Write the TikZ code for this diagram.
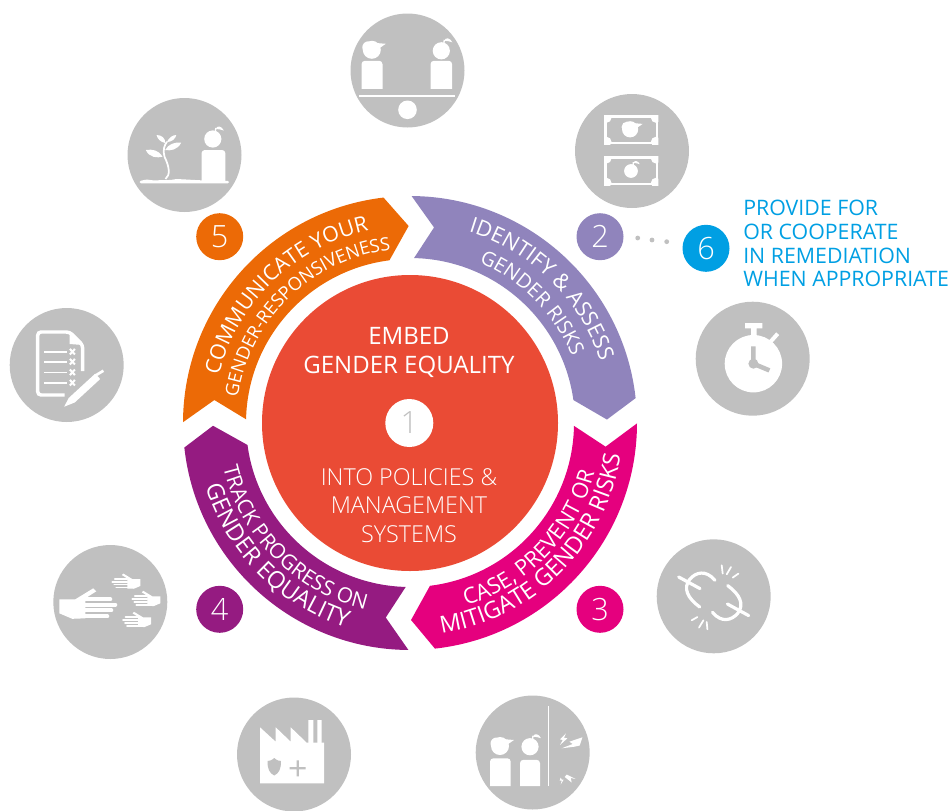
\documentclass[tikz,border=0pt]{standalone}
\usepackage{fontspec}
\setmainfont{Open Sans}
\newfontfamily\thinfont{Open Sans Light}
\usetikzlibrary{decorations.text}

\definecolor{icongrey}{HTML}{C0C0C0}
\definecolor{coral}{HTML}{EA4B35}
\definecolor{lavender}{HTML}{9084BC}
\definecolor{hotpink}{HTML}{E5007E}
\definecolor{plum}{HTML}{951B81}
\definecolor{tangerine}{HTML}{EC6A06}
\definecolor{skyblue}{HTML}{009FE3}

\newcommand{\ringlabel}[5]{%
  \path[decorate,decoration={text along path,text align=center,
    text={|\fontsize{#4}{#4}\selectfont\color{white}|#5}}]
    (#1:#3) arc[start angle=#1,end angle=#2,radius=#3];}

\tikzset{
  icon/.style={circle,fill=icongrey,minimum size=85.5pt,inner sep=0pt},
  badge/.style={circle,minimum size=35.25pt,inner sep=0pt,text=white,
    font=\thinfont\fontsize{23}{23}\selectfont},
  dotmark/.style={circle,fill=icongrey,minimum size=3.6pt,inner sep=0pt},
  stroke/.style={draw=white,line width=#1,line cap=round},
  stroke/.default=2.4pt,
  fingerwidth/.initial=3pt,
  manhead/.pic={
    \fill[white] (0,0) circle (9) (-3.5,-2.5) circle (6);
    \fill[white] (2,-7) -- (14,-6) -- (7.5,-1.5) -- cycle;
  },
  womanhead/.pic={
    \fill[white] (0,0) circle (8.6);
    \draw[white,line width=1pt] (2.5,-7) -- (3,-11);
    \fill[white] (3,-10) .. controls (4,-14) and (9,-13) .. (11,-8.5)
      .. controls (8,-10) and (6,-9.5) .. (3,-10) -- cycle;
  },
  hand/.pic={
    \fill[white] (-24,-6) -- (-8,-6) -- (10,-17) -- (13,-14) -- (2,-7)
      -- (2,13) -- (-11,13.5) -- (-24,8) -- cycle;
    \draw[stroke=\pgfkeysvalueof{/tikz/fingerwidth}] (2,-6) -- (27,-6) (2,-.6) -- (32,-.6)
      (2,5) -- (28,5) (-3,11) -- (24,11);
  },
}

\begin{document}
\begin{tikzpicture}[x=.75pt,y=-.75pt]
  \useasboundingbox (0,0) rectangle (952,810);

  \node[icon] (balance) at (407.5,70.5) {};
  \node[icon] (money) at (632,151) {};
  \node[icon] (watch) at (752.7,358.7) {};
  \node[icon] (chain) at (713.7,596.3) {};
  \node[icon] (wall) at (532.7,752.5) {};
  \node[icon] (factory) at (294,754.5) {};
  \node[icon] (hands) at (110.3,602) {};
  \node[icon] (report) at (66.7,365) {};
  \node[icon] (plant) at (184.5,155) {};

  % ring
  \begin{scope}[shift={(410,423)},y=.75pt]
    \fill[lavender] (89.6:227) arc[start angle=89.6,end angle=6.3,radius=227] -- (1:197)
      -- (8:165) arc[start angle=8,end angle=88.6,radius=165] -- (83:197) -- cycle;
    \fill[hotpink] (-0.1:227) arc[start angle=-0.1,end angle=-83.7,radius=227] -- (-89.7:197)
      -- (-83:164) arc[start angle=-83,end angle=-1,radius=164] -- (-6.9:197) -- cycle;
    \fill[plum] (186.2:227) arc[start angle=186.2,end angle=269.6,radius=227] -- (262.9:196)
      -- (268.5:164) arc[start angle=268.5,end angle=187.7,radius=164] -- (180.8:197) -- cycle;
    \fill[tangerine] (179.8:227) arc[start angle=179.8,end angle=96.7,radius=227] -- (90.4:197)
      -- (97.2:164) arc[start angle=97.2,end angle=178.7,radius=164] -- (173.3:197) -- cycle;

    \ringlabel{85}{6}{200}{16.25}{IDENTIFY {\&} ASSESS}
    \ringlabel{78}{11}{175}{15}{GENDER RISKS}
    \ringlabel{-85}{-3}{191}{16.5}{CASE, PREVENT OR}
    \ringlabel{-92}{2}{213}{17.6}{MITIGATE GENDER RISKS}
    \ringlabel{182}{268}{192}{15.7}{TRACK PROGRESS ON}
    \ringlabel{185}{265}{214}{17.6}{GENDER EQUALITY}
    \ringlabel{178}{90}{197}{16}{COMMUNICATE YOUR}
    \ringlabel{178}{90}{174}{13.7}{GENDER-RESPONSIVENESS}
  \end{scope}

  \node[circle,fill=coral,minimum size=222pt,inner sep=0pt] (core) at (410,423) {};
  \node[circle,fill=white,minimum size=36pt,inner sep=0pt,text=icongrey,
    font=\thinfont\fontsize{23}{23}\selectfont] (one) at (409.3,423) {1};
  \node[text=white,align=center,font=\fontsize{18}{21.7}\selectfont] (embed) at (409,352)
    {EMBED\\GENDER EQUALITY};
  \node[text=white,align=center,font=\thinfont\fontsize{17.5}{21.4}\selectfont] (policies) at (409,505.5)
    {INTO POLICIES \&\\MANAGEMENT\\SYSTEMS};

  \node[badge,fill=lavender] (two) at (600,236.7) {2};
  \node[badge,fill=hotpink] (three) at (600,609.3) {3};
  \node[badge,fill=plum] (four) at (219.7,609.3) {4};
  \node[badge,fill=tangerine] (five) at (219.7,236.7) {5};
  \node[badge,fill=skyblue] (six) at (706,248.3) {6};
  \node[dotmark] (dota) at (637.7,238) {};
  \node[dotmark] (dotb) at (652,240) {};
  \node[dotmark] (dotc) at (666.7,241.7) {};
  \node[text=skyblue,anchor=west,align=left,inner sep=0pt,font=\fontsize{16}{17.8}\selectfont]
    (remedy) at (743,243.5) {PROVIDE FOR\\OR COOPERATE\\IN REMEDIATION\\WHEN APPROPRIATE};

  % balance
  \begin{scope}[shift={(balance)}]
    \pic at (-35.7,-20.7) {manhead};
    \pic at (33.8,-19.7) {womanhead};
    \fill[white,rounded corners=2.5pt] (-46,18.3) -- (-46,-9.7) -- (-25,-9.7) [sharp corners] -- (-25,18.3) -- cycle;
    \fill[white,rounded corners=2.5pt] (23,18.3) -- (23,-9.7) -- (44.6,-9.7) [sharp corners] -- (44.6,18.3) -- cycle;
    \fill[white] (-48.7,24.3) rectangle (47.2,26.3);
    \fill[white] (0,39.3) circle (9.3);
  \end{scope}

  % money
  \begin{scope}[shift={(money)}]
    \foreach \top/\bot in {-35.7/-6.7,5/34.3}{
      \fill[white] (-28,\top) rectangle (26.4,\bot);
      \fill[icongrey] (-25.5,\top+2.5) rectangle (23.9,\bot-2.5);
      \begin{scope}
        \clip (-28,\top) rectangle (26.4,\bot);
        \fill[white] (-25.5,\top+2.5) circle (5) (23.9,\top+2.5) circle (5)
          (-25.5,\bot-2.5) circle (5) (23.9,\bot-2.5) circle (5);
      \end{scope}
    }
    \pic[scale=.9] at (-1.9,-21.7) {manhead};
    \pic[scale=.8] at (-1,20) {womanhead};
  \end{scope}

  % watch
  \begin{scope}[shift={(watch)}]
    \fill[white] (.7,5) circle (28.7);
    \fill[white] (-7.7,-35.7) rectangle (9.7,-30.3) (-1.7,-31) rectangle (4,-20);
    \draw[stroke=3pt,line cap=butt] (17,-16) -- (25,-25);
    \fill[icongrey] (.7,5) circle (5);
    \draw[icongrey,line width=3.4pt] (.7,5) -- (.7,-12.3) (.7,5) -- (16.7,11.7);
  \end{scope}

  % broken chain
  \begin{scope}[shift={(chain)}]
    \foreach \flip in {1,-1}{
      \begin{scope}[x=\flip*.75pt,y=-\flip*.75pt]
        \draw[stroke] (-35,-19.3) -- (-13.7,-7.7);
        \draw[stroke] (1.3,-16) .. controls (-8,-27) and (-18,-24) .. (-24,-17)
          .. controls (-31,-8) and (-26,2) .. (-14,10.7);
      \end{scope}
    }
    \draw[stroke=1.3pt] (8,-31) -- (9,-22.7) (17.3,-29.3) -- (13,-22) (24.7,-22.7) -- (19,-18.7)
      (-22,24) -- (-16.3,20.7) (-14.7,31.3) -- (-10.3,24) (-6.3,33) -- (-7,25.7);
  \end{scope}

  % wall
  \begin{scope}[shift={(wall)}]
    \pic at (-32.7,-6.5) {manhead};
    \pic at (-2.7,-5.8) {womanhead};
    \fill[white,rounded corners=2.5pt] (-42.7,33.5) -- (-42.7,5.8) -- (-22,5.8) [sharp corners] -- (-22,33.5) -- cycle;
    \fill[white,rounded corners=2.5pt] (-12.7,33.5) -- (-12.7,7.3) -- (7.3,7.3) [sharp corners] -- (7.3,33.5) -- cycle;
    \fill[white] (14.9,-46.5) rectangle (16.7,33.5);
    \fill[white] (49.7,-15.2) -- (36.7,-10.8) -- (40,-8.5) -- (29,-4.2) -- (41.7,-5.8) -- (47,-7) -- cycle;
    \fill[white] (33.3,-19.2) -- (27.3,-13.2) -- (30,-12.5) -- (27.3,-7.5) -- (34.7,-14.2) -- (31.3,-14.8) -- cycle;
    \fill[white] (34,22) -- (43,26.5) -- (38,25.5) -- (39,30) -- (32,24.5) -- cycle;
    \fill[white] (28,25) -- (27,28) -- (29,28) -- (28,32) -- (31,27) -- (29,27) -- cycle;
  \end{scope}

  % factory
  \begin{scope}[shift={(factory)}]
    \fill[white] (-34,-27.2) -- (-18.3,-12.8) -- (-18.3,-27.2) -- (-3.3,-12.8) -- (-3.3,-27.2)
      -- (12.7,-11.8) -- (30,-11.8) -- (30,28.8) -- (-34,28.8) -- cycle;
    \fill[white] (14.3,-34.5) rectangle (19.3,-11) (23.3,-34.5) rectangle (27.7,-11);
    \fill[icongrey] (-19.7,3.5) .. controls (-17,6) and (-15,6.5) .. (-13,6.5) .. controls (-13,15) and (-15,18.5) .. (-19.7,21)
      .. controls (-24.5,18.5) and (-26.5,15) .. (-26.5,6.5) .. controls (-24.5,6.5) and (-22.5,6) .. (-19.7,3.5) -- cycle;
    \fill[icongrey] (-4.3,12.7) rectangle (11.7,14.9) (2.6,5.8) rectangle (4.8,21.8);
  \end{scope}

  % hands
  \begin{scope}[shift={(hands)}]
    \pic at (-27,3.3) {hand};
    \pic[xscale=-.5,yscale=.5,fingerwidth=1.4pt] at (18,-20) {hand};
    \pic[xscale=-.5,yscale=.5,fingerwidth=1.4pt] at (38,-2.7) {hand};
    \pic[xscale=-.5,yscale=.5,fingerwidth=1.4pt] at (28.7,18.3) {hand};
  \end{scope}

  % report
  \begin{scope}[shift={(report)}]
    \draw[white,line width=2.6pt,rounded corners=2.5pt] (-2,30) -- (-29,30) -- (-29,-33) -- (3,-33) -- (16,-20) -- (16,6);
    \fill[white] (3,-33) -- (3,-21) -- (16,-20) -- cycle;
    \draw[stroke=1.2pt,line cap=butt] (-22.7,-13.3) -- (.7,-13.3) (-22.7,-3.3) -- (.7,-3.3)
      (-22.7,7.3) -- (.7,7.3) (-22.7,17.7) -- (.7,17.7);
    \foreach \row in {-13.3,-3.3,7.3,17.7}{
      \draw[stroke=1.5pt,line cap=butt] (3.2,\row-2.8) -- (8.2,\row+2.8) (8.2,\row-2.8) -- (3.2,\row+2.8);
    }
    \draw[icongrey,line width=7.5pt] (1,38) -- (33,9);
    \fill[white] (-2.5,41.7) -- (2,33) -- (28.5,8.7) -- (33.5,14) -- (8,37.5) -- cycle;
    \draw[stroke=2pt,line cap=butt] (28,11) -- (36.7,5.7);
  \end{scope}

  % plant
  \begin{scope}[shift={(plant)}]
    \pic at (28.3,-16) {womanhead};
    \fill[white,rounded corners=2.5pt] (17,26) -- (17,-5) -- (40.9,-5) [sharp corners] -- (40.9,26) -- cycle;
    \fill[white,rounded corners=1pt] (-45,28.3) -- (-45,26) -- (-38,24.5) -- (-30,25.5) -- (-22,25)
      -- (-14,25) -- (-8,24) -- (20,25.5) -- (44.6,26) -- (44.6,28.3) -- cycle;
    \draw[white,line width=1.3pt] (-19,24) .. controls (-14,20) and (-15,12) .. (-20,1.7)
      .. controls (-22,-5) and (-20,-10) .. (-17.5,-13.3);
    \fill[white] (-22,1.7) .. controls (-27,3) and (-35,3) .. (-38.7,-5) .. controls (-32,-6) and (-26,-5) .. (-22,1.7) -- cycle;
    \fill[white] (-19.3,-5) .. controls (-14,-4) and (-7,-5) .. (-3.3,-12.3) .. controls (-10,-13) and (-16,-11) .. (-19.3,-5) -- cycle;
    \fill[white] (-19.3,-12) .. controls (-24,-13) and (-27,-16) .. (-28,-20) .. controls (-23,-20) and (-19,-17) .. (-19.3,-12) -- cycle;
    \fill[white] (-17.5,-13) .. controls (-16,-17) and (-12,-20) .. (-8.2,-20) .. controls (-9,-16) and (-13,-13) .. (-17.5,-13) -- cycle;
  \end{scope}
\end{tikzpicture}
\end{document}
